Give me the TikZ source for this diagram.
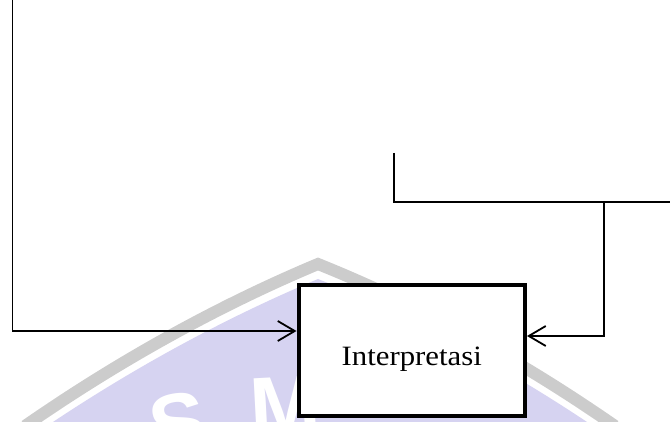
\documentclass[tikz,border=0pt]{standalone}
\usepackage{graphicx}
\usepackage{fontspec}
\setmainfont{Liberation Serif}
\newfontfamily\wmfont{Liberation Sans}
\usetikzlibrary{arrows.meta}
\definecolor{wmgray}{RGB}{204,204,204}
\definecolor{wmlav}{RGB}{214,211,241}
\begin{document}
\begin{tikzpicture}[x=1pt,y=-1pt,
  conn/.style={line width=1.5pt, draw=black},
  arr/.style={conn, -{Straight Barb[length=17pt,width=20pt,line width=1.8pt]}},
  procbox/.style={draw, line width=4pt, fill=white, minimum width=226.5pt,
    minimum height=131pt, inner sep=0pt},
  boxtext/.style={inner sep=0pt, font=\fontsize{28}{30}\selectfont},
  wmletter/.style={text=white, font=\wmfont\bfseries\fontsize{85}{85}\selectfont, inner sep=0pt}]
\useasboundingbox (0,0) rectangle (670,422);
\clip (0,0) rectangle (670,422);
% faint watermark
\fill[wmlav] (25,441) .. controls (120,375) and (220,320) .. (318,279)
  .. controls (420,320) and (520,375) .. (615,441) -- cycle;
\node[wmletter, rotate=10] (wmS) at (178,424) {S};
\node[wmletter, rotate=3] (wmM) at (285,406) {M};
\draw[wmgray, line width=12pt] (25,426) .. controls (120,360) and (220,305) .. (318,264)
  .. controls (420,305) and (520,360) .. (615,426);
% diagram
\node[procbox] (box) at (411.75,350.5) {};
\node[boxtext] (lbl) at ([yshift=-9pt]box.center) {\scalebox{1.1}[1]{Interpretasi}};
\coordinate (topL) at (12.7,-2);
\draw[arr] (topL) |- ([yshift=19.5pt]box.west);
\coordinate (ob) at (394,153);
\coordinate (oe) at (672,202);
\draw[conn] (ob) |- (oe);
\coordinate (jn) at (604,202);
\draw[arr] (jn) |- ([yshift=14.5pt]box.east);
\end{tikzpicture}
\end{document}
